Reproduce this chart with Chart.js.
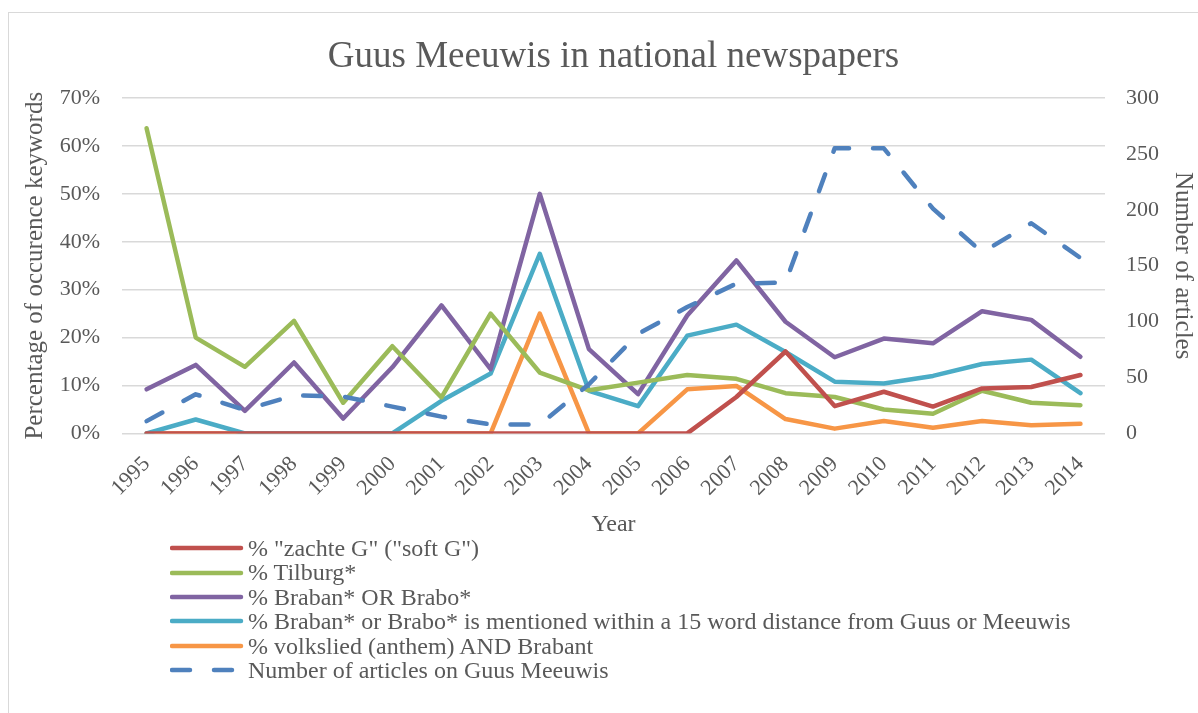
<!DOCTYPE html>
<html>
<head>
<meta charset="utf-8">
<script src="https://cdn.jsdelivr.net/npm/chart.js@4"></script>
<style>
  html,body{margin:0;padding:0;background:#fff;}
  #wrap{position:relative;width:1198px;height:713px;overflow:hidden;}
  #frame{position:absolute;left:8px;top:12px;width:1200px;height:720px;border:1.5px solid #d9d9d9;box-sizing:border-box;}
  canvas{position:absolute;left:0;top:0;}
  #legend{position:absolute;left:170px;top:536px;font-family:"Liberation Serif","Times New Roman",serif;font-size:24px;color:#595959;}
  .item{height:24.4px;line-height:24.4px;display:flex;align-items:center;white-space:nowrap;}
  .sw{width:78px;height:24px;margin-right:0px;}
</style>
</head>
<body>
<div id="wrap">
  <div id="frame"></div>
  <canvas id="c" width="1198" height="713"></canvas>
  <div id="legend"></div>
</div>
<script>
const years = ["1995","1996","1997","1998","1999","2000","2001","2002","2003","2004","2005","2006","2007","2008","2009","2010","2011","2012","2013","2014"];
const zachteG   = [0,0,0,0,0,0,0,0,0,0,0,0,0.076,0.171,0.057,0.087,0.056,0.094,0.097,0.122];
const tilburg   = [0.637,0.200,0.139,0.235,0.064,0.182,0.075,0.250,0.127,0.090,0.106,0.122,0.114,0.084,0.076,0.050,0.041,0.089,0.064,0.059];
const brabanOr  = [0.092,0.143,0.047,0.148,0.031,0.138,0.267,0.134,0.500,0.176,0.082,0.246,0.361,0.233,0.159,0.198,0.188,0.255,0.237,0.160];
const brabanNear= [0,0.029,0,0,0,0,0.068,0.125,0.375,0.089,0.057,0.204,0.227,0.170,0.108,0.104,0.120,0.145,0.154,0.084];
const volkslied = [0,0,0,0,0,0,0,0,0.250,0,0,0.092,0.099,0.030,0.010,0.026,0.012,0.026,0.017,0.020];
const articles  = [11,35,21,34,33,24,15,8,8,44,89,113,134,135,255,255,201,162,188,157];
const leftTicks = [0,0.1,0.2,0.3,0.4,0.5,0.6,0.7];
const rightTicks = [0,50,100,150,200,250,300];

const labels = ['% "zachte G" ("soft G")','% Tilburg*','% Braban* OR Brabo*','% Braban* or Brabo* is mentioned within a 15 word distance from Guus or Meeuwis','% volkslied (anthem) AND Brabant','Number of articles on Guus Meeuwis'];
const colors = ['#C0504D','#9BBB59','#8064A2','#4BACC6','#F79646','#4F81BD'];
const series = [zachteG,tilburg,brabanOr,brabanNear,volkslied];

const serif = '"Liberation Serif","Times New Roman",serif';
const grey = '#595959';

const datasets = series.map((d,i)=>({
  label: labels[i], data: d, borderColor: colors[i], backgroundColor: colors[i],
  borderWidth: 4.5, pointRadius: 0, tension: 0, yAxisID: 'y', fill:false,
  borderCapStyle:'round', borderJoinStyle:'round'
}));
datasets.push({
  label: labels[5], data: articles, borderColor: colors[5], backgroundColor: colors[5],
  borderWidth: 4.5, pointRadius: 0, tension: 0, yAxisID: 'y1', fill:false,
  borderDash:[18,24], borderCapStyle:'round', borderJoinStyle:'round', order: -1
});

const chart = new Chart(document.getElementById('c'), {
  type:'line',
  data:{labels: years, datasets},
  options:{
    responsive:false, animation:false,
    layout:{padding:{left:0,right:0,top:0,bottom:174}},
    plugins:{
      legend:{display:false},
      tooltip:{enabled:false},
      title:{display:true,fullSize:false,text:'Guus Meeuwis in national newspapers',color:grey,
        font:{family:serif,size:37,weight:'normal'},padding:{top:35,bottom:18.6}}
    },
    scales:{
      x:{
        offset:true,
        grid:{display:false,drawTicks:false},
        border:{display:false},
        ticks:{color:grey,font:{family:serif,size:22},minRotation:45,maxRotation:45,padding:18},
        title:{display:true,text:'Year',color:grey,font:{family:serif,size:24},padding:{top:-9,bottom:0}}
      },
      y:{
        position:'left', min:0, max:0.7,
        afterBuildTicks:(s)=>{s.ticks = leftTicks.map(v=>({value:v}));},
        afterFit:(s)=>{s.width=122;},
        grid:{color:'#d9d9d9',lineWidth:1.5,drawTicks:false},
        border:{display:false},
        ticks:{color:grey,font:{family:serif,size:22},padding:22,callback:(v)=>Math.round(v*100)+'%'},
        title:{display:true,text:'Percentage of occurence keywords',color:grey,font:{family:serif,size:25},padding:{top:20,bottom:0}}
      },
      y1:{
        position:'right', min:0, max:300,
        afterBuildTicks:(s)=>{s.ticks = rightTicks.map(v=>({value:v}));},
        afterFit:(s)=>{s.width=93;},
        grid:{display:false,drawTicks:false},
        border:{display:false},
        ticks:{color:grey,font:{family:serif,size:22},padding:21},
        title:{display:true,text:'Number of articles',color:grey,font:{family:serif,size:25},padding:{top:0,bottom:0}}
      }
    }
  }
});

// HTML legend
const lg = document.getElementById('legend');
labels.forEach((t,i)=>{
  const it = document.createElement('div'); it.className='item';
  const cv = document.createElement('canvas'); cv.width=78; cv.height=24; cv.className='sw';
  cv.style.position='static';
  const g = cv.getContext('2d');
  g.strokeStyle = colors[i]; g.lineWidth = 4.5; g.lineCap='round';
  if(i===5){ g.setLineDash([18,24]); }
  g.beginPath(); g.moveTo(2,12); g.lineTo(71,12); g.stroke();
  const sp = document.createElement('span'); sp.textContent = t;
  it.appendChild(cv); it.appendChild(sp); lg.appendChild(it);
});
</script>
</body>
</html>
